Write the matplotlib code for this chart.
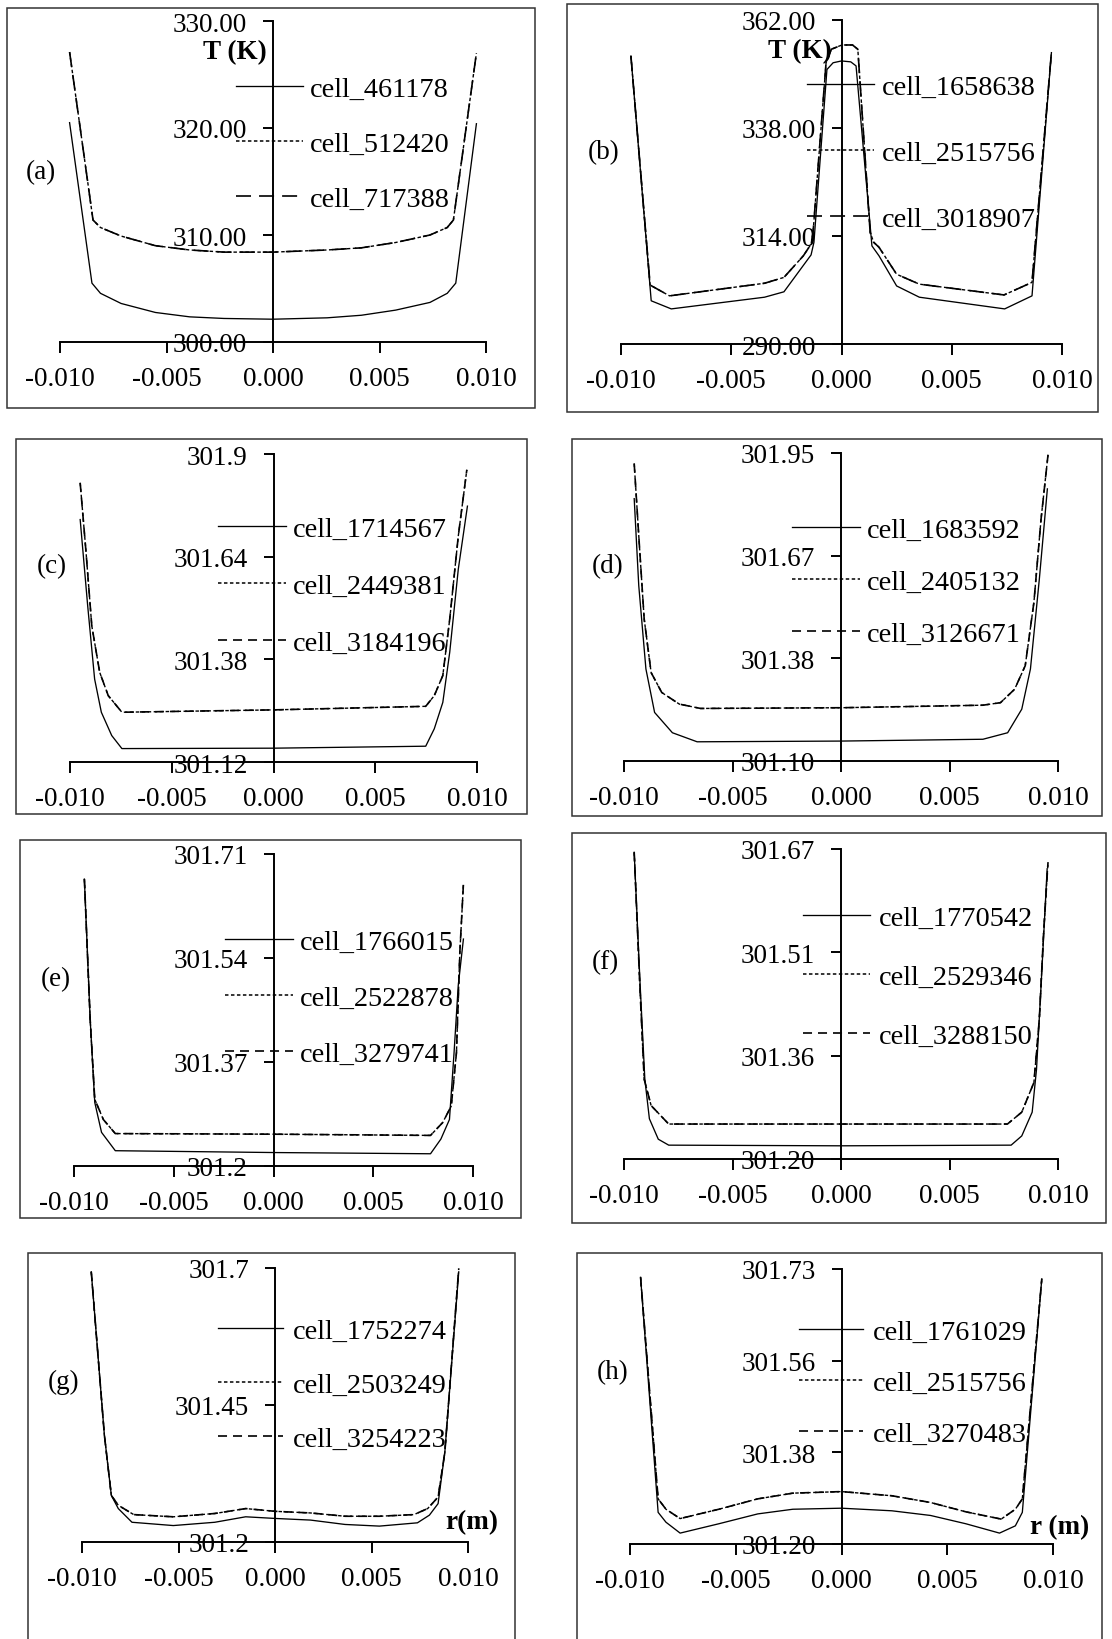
import matplotlib
matplotlib.use("Agg")
import matplotlib.pyplot as plt
from matplotlib.patches import Rectangle
from matplotlib.lines import Line2D

# ---------------------------------------------------------------------------
# Data
# ---------------------------------------------------------------------------
x_ticks = [-0.010, -0.005, 0.0, 0.005, 0.010]
x_ticklabels = ["-0.010", "-0.005", "0.000", "0.005", "0.010"]

# (a)
r_a_lo = [-0.00955, -0.0085, -0.0081, -0.00713, -0.00552, -0.00391, -0.0023, 0.0,
          0.00254, 0.00415, 0.00576, 0.00737, 0.00818, 0.00858, 0.00955]
T_a_lo = [320.5, 305.5, 304.55, 303.6, 302.76, 302.35, 302.2, 302.13,
          302.26, 302.5, 302.98, 303.7, 304.55, 305.5, 320.4]
r_a_hi = [-0.00955, -0.00845, -0.0081, -0.00713, -0.00552, -0.00391, -0.0023, 0.0,
          0.00254, 0.00415, 0.00576, 0.00737, 0.00818, 0.00847, 0.00955]
T_a_hi = [327.1, 311.4, 310.7, 309.9, 309.0, 308.6, 308.4, 308.4,
          308.6, 308.8, 309.3, 310.0, 310.7, 311.4, 327.0]
yt_a = [300, 310, 320, 330]
yl_a = ["300.00", "310.00", "320.00", "330.00"]
cells_a = ["cell_461178", "cell_512420", "cell_717388"]

# (b)
r_b_lo = [-0.00955, -0.00863, -0.00772, -0.00349, -0.00261, -0.00138, -0.00125, -0.00066,
          -0.00038, 0.0, 0.00042, 0.00066, 0.00138, 0.0017, 0.0025, 0.00353, 0.0074,
          0.00864, 0.00952]
T_b_lo = [354.0, 299.6, 297.8, 300.4, 301.6, 309.8, 312.6, 351.0,
          352.5, 352.9, 352.7, 351.8, 311.8, 309.6, 302.9, 300.4, 297.8,
          300.7, 354.75]
r_b_hi = [-0.00955, -0.00868, -0.0078, -0.00349, -0.00261, -0.00173, -0.00138, -0.00129,
          -0.0007, -0.00046, 0.00002, 0.0005, 0.00074, 0.0013, 0.00146, 0.0017, 0.0025,
          0.00353, 0.00737, 0.00864, 0.00952]
T_b_hi = [354.0, 303.1, 300.7, 303.5, 304.8, 309.6, 312.2, 314.8,
          352.5, 355.5, 356.45, 356.45, 355.5, 314.8, 312.6, 311.5, 305.5,
          303.3, 300.9, 303.7, 354.75]
yt_b = [290, 314, 338, 362]
yl_b = ["290.00", "314.00", "338.00", "362.00"]
cells_b = ["cell_1658638", "cell_2515756", "cell_3018907"]

# (c)
r_c_lo = [-0.0095, -0.00913, -0.00879, -0.00846, -0.00795, -0.00745, 0.0,
          0.00748, 0.0079, 0.00832, 0.00866, 0.00908, 0.00953]
T_c_lo = [301.734, 301.515, 301.330, 301.246, 301.187, 301.154, 301.155,
          301.160, 301.204, 301.271, 301.398, 301.608, 301.768]
r_c_hi = [-0.0095, -0.00921, -0.00893, -0.00854, -0.00812, -0.00745, 0.0,
          0.00748, 0.0079, 0.00832, 0.00866, 0.00908, 0.0095]
T_c_hi = [301.827, 301.650, 301.465, 301.347, 301.288, 301.246, 301.252,
          301.261, 301.288, 301.339, 301.482, 301.692, 301.860]
yt_c = [301.12, 301.38, 301.64, 301.9]
yl_c = ["301.12", "301.38", "301.64", "301.9"]
cells_c = ["cell_1714567", "cell_2449381", "cell_3184196"]

# (d)
r_d_lo = [-0.00953, -0.00932, -0.00899, -0.00859, -0.00777, -0.00663, 0.0,
          0.00654, 0.00768, 0.00833, 0.00873, 0.00914, 0.00951]
T_d_lo = [301.824, 301.584, 301.354, 301.234, 301.178, 301.153, 301.155,
          301.160, 301.178, 301.243, 301.354, 301.602, 301.851]
r_d_hi = [-0.00953, -0.00932, -0.00907, -0.00875, -0.00826, -0.00745, -0.00647, 0.0,
          0.00654, 0.00735, 0.0080, 0.00849, 0.00889, 0.00922, 0.00954]
T_d_hi = [301.921, 301.722, 301.492, 301.344, 301.289, 301.257, 301.245, 301.247,
          301.254, 301.261, 301.298, 301.363, 301.538, 301.768, 301.945]
yt_d = [301.10, 301.3833, 301.6667, 301.95]
yl_d = ["301.10", "301.38", "301.67", "301.95"]
cells_d = ["cell_1683592", "cell_2405132", "cell_3126671"]

# (e)
r_e_lo = [-0.00948, -0.00919, -0.00896, -0.00862, -0.00793, 0.0,
          0.00787, 0.00839, 0.00882, 0.00905, 0.00926, 0.00952]
T_e_lo = [301.669, 301.440, 301.304, 301.255, 301.225, 301.222,
          301.220, 301.244, 301.276, 301.385, 301.495, 301.571]
r_e_hi = [-0.00948, -0.00919, -0.00896, -0.00853, -0.00793, 0.0,
          0.00787, 0.00848, 0.00891, 0.00917, 0.00934, 0.00952]
T_e_hi = [301.669, 301.440, 301.309, 301.276, 301.253, 301.252,
          301.250, 301.271, 301.298, 301.385, 301.549, 301.661]
yt_e = [301.2, 301.37, 301.54, 301.71]
yl_e = ["301.2", "301.37", "301.54", "301.71"]
cells_e = ["cell_1766015", "cell_2522878", "cell_3279741"]

# (f)
r_f_lo = [-0.00953, -0.00927, -0.00904, -0.00883, -0.00842, -0.00794, 0.0,
          0.00784, 0.00833, 0.00881, 0.00901, 0.00922, 0.0095]
T_f_lo = [301.665, 301.473, 301.321, 301.261, 301.230, 301.221, 301.220,
          301.221, 301.235, 301.271, 301.336, 301.463, 301.640]
r_f_hi = [-0.00953, -0.00927, -0.00907, -0.00875, -0.00794, 0.0,
          0.00767, 0.00833, 0.00889, 0.00914, 0.00933, 0.00954]
T_f_hi = [301.665, 301.463, 301.321, 301.281, 301.253, 301.253,
          301.253, 301.271, 301.316, 301.412, 301.539, 301.650]
yt_f = [301.20, 301.3567, 301.5133, 301.67]
yl_f = ["301.20", "301.36", "301.51", "301.67"]
cells_f = ["cell_1770542", "cell_2529346", "cell_3288150"]

# (g)
r_g_lo = [-0.00952, -0.00884, -0.00848, -0.00812, -0.00741, -0.00527, -0.00312, -0.00152, 0.0,
          0.00184, 0.00363, 0.00541, 0.00738, 0.0080, 0.00845, 0.0088, 0.00952]
T_g_lo = [301.693, 301.395, 301.285, 301.261, 301.236, 301.230, 301.236, 301.246, 301.243,
          301.240, 301.232, 301.229, 301.235, 301.249, 301.270, 301.364, 301.693]
r_g_hi = [-0.00952, -0.00884, -0.00848, -0.00812, -0.00732, -0.00527, -0.00312, -0.00152, 0.0,
          0.00184, 0.00363, 0.00541, 0.0072, 0.00791, 0.00845, 0.0088, 0.00952]
T_g_hi = [301.693, 301.395, 301.285, 301.267, 301.250, 301.246, 301.252, 301.261, 301.256,
          301.253, 301.247, 301.247, 301.250, 301.261, 301.282, 301.364, 301.699]
yt_g = [301.2, 301.45, 301.7]
yl_g = ["301.2", "301.45", "301.7"]
cells_g = ["cell_1752274", "cell_2503249", "cell_3254223"]

# (h)
r_h_lo = [-0.0095, -0.00867, -0.0083, -0.00763, -0.0058, -0.00396, -0.0023, 0.0,
          0.00238, 0.00421, 0.00588, 0.00747, 0.00822, 0.00855, 0.00947]
T_h_lo = [301.714, 301.261, 301.242, 301.221, 301.239, 301.258, 301.267, 301.269,
          301.264, 301.255, 301.239, 301.221, 301.235, 301.261, 301.711]
r_h_hi = [-0.0095, -0.00867, -0.0083, -0.00763, -0.0058, -0.00396, -0.0023, 0.0,
          0.00238, 0.00421, 0.00588, 0.00755, 0.00822, 0.00855, 0.00947]
T_h_hi = [301.714, 301.287, 301.267, 301.249, 301.267, 301.287, 301.298, 301.301,
          301.293, 301.280, 301.262, 301.248, 301.267, 301.287, 301.711]
yt_h = [301.20, 301.3767, 301.5533, 301.73]
yl_h = ["301.20", "301.38", "301.56", "301.73"]
cells_h = ["cell_1761029", "cell_2515756", "cell_3270483"]

# ---------------------------------------------------------------------------
# Layout (pixel positions in the 1112x1640 figure)
# ---------------------------------------------------------------------------
W, H = 1112, 1640
FS = 19.5          # tick labels / panel tags
FS_LEG = 20.3      # legend text
EM_LEG = FS_LEG * 100 / 72.0

LONG = (0, (10.8, 5.8))
MED = (0, (6.5, 4.3))
DOT = (0, (2.5, 1.8))

panels = [
    # tag, lo, hi, yticks, ylabels, cells, dash, axes(x0,x1,y0,y1), box, label xy, legend
    ("(a)", (r_a_lo, T_a_lo), (r_a_hi, T_a_hi), yt_a, yl_a, cells_a, LONG,
     (60, 486, 22, 343), (7, 9, 535, 409), (41, 173), (236, 303, 310, 145, 56.5)),
    ("(b)", (r_b_lo, T_b_lo), (r_b_hi, T_b_hi), yt_b, yl_b, cells_b, LONG,
     (621, 1062, 21, 345), (567, 5, 1098, 413), (604, 153), (807, 874, 882, 154, 67)),
    ("(c)", (r_c_lo, T_c_lo), (r_c_hi, T_c_hi), yt_c, yl_c, cells_c, MED,
     (70, 477, 455, 763), (16, 440, 527, 815), (52, 567), (218, 286, 293, 587, 58)),
    ("(d)", (r_d_lo, T_d_lo), (r_d_hi, T_d_hi), yt_d, yl_d, cells_d, MED,
     (624, 1058, 454, 762), (572, 440, 1102, 817), (608, 567), (792, 860, 867, 583, 53.5)),
    ("(e)", (r_e_lo, T_e_lo), (r_e_hi, T_e_hi), yt_e, yl_e, cells_e, MED,
     (74, 473, 855, 1167), (20, 841, 521, 1219), (56, 980), (225, 293, 300, 999, 57)),
    ("(f)", (r_f_lo, T_f_lo), (r_f_hi, T_f_hi), yt_f, yl_f, cells_f, MED,
     (624, 1058, 850, 1160), (572, 834, 1106, 1224), (605, 963), (803, 870, 879, 978, 60)),
    ("(g)", (r_g_lo, T_g_lo), (r_g_hi, T_g_hi), yt_g, yl_g, cells_g, MED,
     (82, 468, 1269, 1543), (28, 1254, 515, 1660), (64, 1382), (218, 283, 293, 1386, 55.5)),
    ("(h)", (r_h_lo, T_h_lo), (r_h_hi, T_h_hi), yt_h, yl_h, cells_h, MED,
     (630, 1053, 1270, 1545), (577, 1254, 1102, 1660), (613, 1373), (799, 863, 873, 1384, 52.5)),
]

plt.rcParams['font.family'] = ['Liberation Serif', 'DejaVu Serif']
plt.rcParams['font.size'] = FS
plt.rcParams['lines.scale_dashes'] = False

fig = plt.figure(figsize=(W / 100, H / 100), dpi=100)


def fx(px):
    return px / W


def fy(py):
    return 1 - py / H


for tag, lo, hi, yt, yl, cells, dash, axpos, box, lab, leg in panels:
    # frame around each sub-figure
    bx0, by0, bx1, by1 = box
    fig.add_artist(Rectangle((fx(bx0), fy(by1)), fx(bx1) - fx(bx0), (by1 - by0) / H,
                             transform=fig.transFigure, fill=False,
                             edgecolor='#333333', lw=1.1))

    x0, x1, y0, y1 = axpos
    ax = fig.add_axes([fx(x0), fy(y1), fx(x1) - fx(x0), (y1 - y0) / H])
    ax.patch.set_visible(False)
    ax.set_xlim(-0.01, 0.01)
    ax.set_ylim(yt[0], yt[-1])
    for s in ('top', 'right'):
        ax.spines[s].set_visible(False)
    ax.spines['left'].set_position(('data', 0))
    for s in ('left', 'bottom'):
        ax.spines[s].set_linewidth(1.4)
    ax.set_xticks(x_ticks)
    ax.set_xticklabels(x_ticklabels)
    ax.set_yticks(yt)
    ax.set_yticklabels(yl)
    ax.tick_params(axis='y', direction='out', length=7.5, width=1.4, pad=11)
    ax.tick_params(axis='x', direction='out', length=8, width=1.4, pad=9)

    ax.plot(lo[0], lo[1], color='k', lw=0.95, ls='-')
    ax.plot(hi[0], hi[1], color='k', lw=1.2, ls=dash)
    ax.plot(hi[0], hi[1], color='k', lw=1.0, ls=DOT)

    handles = [Line2D([], [], color='k', lw=0.95, ls='-'),
               Line2D([], [], color='k', lw=1.1, ls=DOT),
               Line2D([], [], color='k', lw=1.2, ls=dash)]
    hl, hr, tl, ymid, pitch = leg
    ax.legend(handles, cells, loc='center left', fontsize=FS_LEG,
              bbox_to_anchor=(fx(hl), fy(ymid)), bbox_transform=fig.transFigure,
              frameon=False, borderpad=0, borderaxespad=0,
              handlelength=(hr - hl) / EM_LEG, handletextpad=(tl - hr) / EM_LEG,
              labelspacing=pitch / EM_LEG - 0.95)

    fig.text(fx(lab[0]), fy(lab[1]), tag, ha='center', va='center')

fig.text(fx(235), fy(53), "T (K)", ha='center', va='center', fontweight='bold')
fig.text(fx(800), fy(52), "T (K)", ha='center', va='center', fontweight='bold')
fig.text(fx(472), fy(1523), "r(m)", ha='center', va='center', fontweight='bold')
fig.text(fx(1060), fy(1528), "r (m)", ha='center', va='center', fontweight='bold')

fig.savefig("out.png", dpi=100)
